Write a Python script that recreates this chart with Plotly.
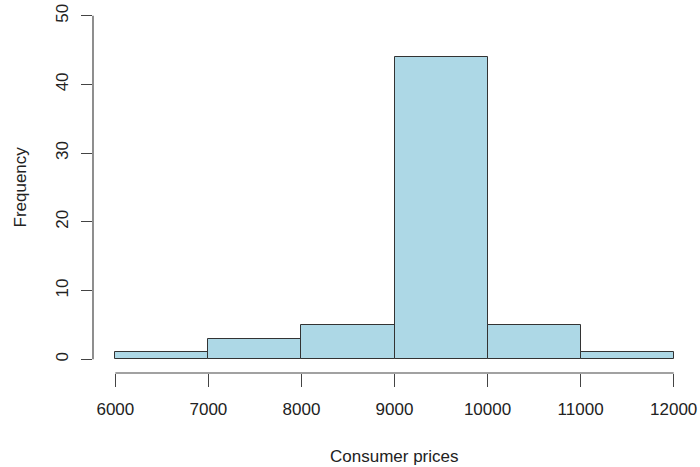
import plotly.graph_objects as go

# Histogram of consumer prices: bin edges and counts per bin
bin_edges = [6000, 7000, 8000, 9000, 10000, 11000, 12000]
counts = [1, 3, 5, 44, 5, 1]
x_ticks = [6000, 7000, 8000, 9000, 10000, 11000, 12000]
y_ticks = [0, 10, 20, 30, 40, 50]

lefts = bin_edges[:-1]
widths = [b - a for a, b in zip(bin_edges[:-1], bin_edges[1:])]

FONT = "Liberation Sans, Arial, sans-serif"
AXIS_COL = "#444444"

fig = go.Figure(
    go.Bar(
        x=lefts,
        y=counts,
        width=widths,
        offset=0,
        marker=dict(color="#ADD8E6", line=dict(color="#333333", width=1)),
        hoverinfo="skip",
    )
)

# R-style 4% padding around the data range
x_lo, x_hi = bin_edges[0], bin_edges[-1]
x_pad = 0.04 * (x_hi - x_lo)
y_pad = 0.04 * (y_ticks[-1] - y_ticks[0])

fig.update_layout(
    width=700,
    height=467,
    margin=dict(l=93, r=4, t=2, b=94),
    paper_bgcolor="white",
    plot_bgcolor="white",
    showlegend=False,
    bargap=0,
    font=dict(family=FONT, size=17, color="#222222"),
    xaxis=dict(
        range=[x_lo - x_pad, x_hi + x_pad],
        tickmode="array",
        tickvals=x_ticks,
        ticktext=[str(v) for v in x_ticks],
        ticks="outside",
        ticklen=13,
        tickwidth=1.2,
        tickcolor=AXIS_COL,
        showgrid=False,
        zeroline=False,
        showline=False,
        ticklabelstandoff=8,
    ),
    yaxis=dict(
        range=[y_ticks[0] - y_pad, y_ticks[-1] + y_pad],
        tickmode="array",
        tickvals=y_ticks,
        ticktext=[str(v) for v in y_ticks],
        tickangle=-90,
        ticks="outside",
        ticklen=11,
        tickwidth=1.2,
        tickcolor=AXIS_COL,
        showgrid=False,
        zeroline=False,
        showline=False,
        ticklabelstandoff=6,
    ),
)

# Axis lines spanning only the tick range
fig.add_shape(type="line", xref="x", yref="paper",
              x0=x_ticks[0], x1=x_ticks[-1], y0=0, y1=0,
              line=dict(color=AXIS_COL, width=1.2))
fig.add_shape(type="line", xref="paper", yref="y",
              x0=0, x1=0, y0=y_ticks[0], y1=y_ticks[-1],
              line=dict(color=AXIS_COL, width=1.2))

# Axis titles
fig.add_annotation(text="Consumer prices", xref="paper", yref="paper",
                   x=0.5, y=-83 / 371, xanchor="center", yanchor="middle",
                   showarrow=False, font=dict(size=17))
fig.add_annotation(text="Frequency", xref="paper", yref="paper",
                   x=-73 / 603, y=0.5, xanchor="center", yanchor="middle",
                   textangle=-90, showarrow=False, font=dict(size=17))

fig.write_html("out.html")
